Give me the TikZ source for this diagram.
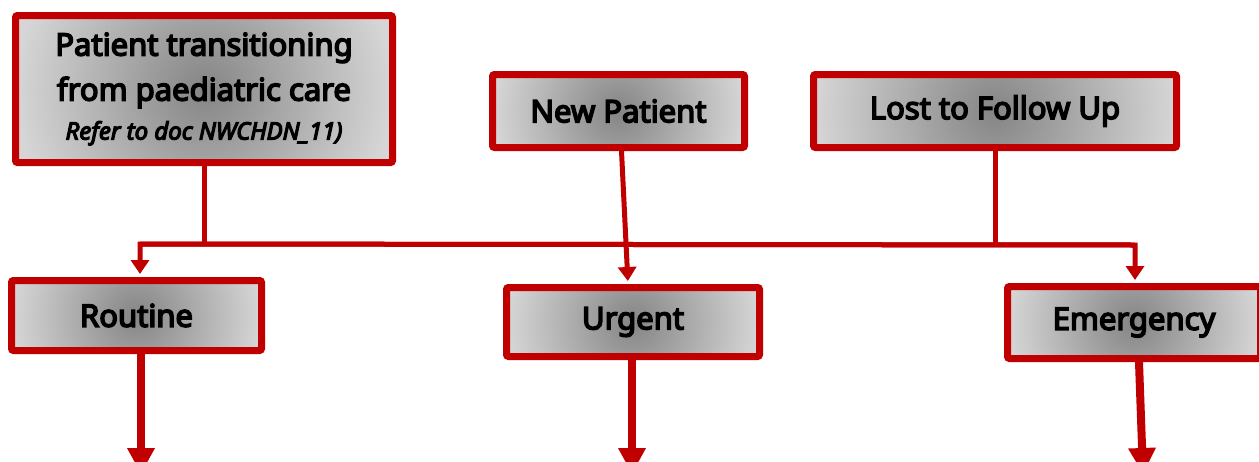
\documentclass[tikz,border=0pt]{standalone}
\usepackage{fontspec}
\setmainfont{Noto Sans}[BoldFont={Noto Sans}, BoldFeatures={FakeBold=5}, BoldItalicFont={Noto Sans Italic}, BoldItalicFeatures={FakeBold=5}]
\usetikzlibrary{arrows.meta,calc}
\definecolor{boxred}{HTML}{C00000}
\definecolor{shcen}{HTML}{858585}
\definecolor{shedge}{HTML}{D6D6D6}
\pgfdeclareradialshading{boxshade}{\pgfpoint{0bp}{0bp}}{color(0bp)=(shcen); color(25bp)=(shedge); color(50bp)=(shedge)}
\tikzset{
  box/.style={draw=boxred, line width=7pt, rounded corners=2pt, inner sep=0pt,
    font=\fontsize{31}{45}\selectfont\bfseries, align=center,
    path picture={
      \fill[shedge, draw=none] (path picture bounding box.south west) rectangle (path picture bounding box.north east);
      \shade[shading=boxshade, draw=none] let \p1=(path picture bounding box.east), \p2=(path picture bounding box.center), \n1={\x1-\x2} in (\p2) circle (\n1);
    }},
  conn/.style={draw=boxred, line width=5pt, line join=miter},
  tip/.style={-{Triangle[length=14pt,width=18pt]}, shorten >=3pt},
  bigtip/.style={draw=boxred, line width=8pt, -{Triangle[length=26pt,width=26pt]}},
}
\begin{document}
\begin{tikzpicture}[x=1pt,y=-1pt]
\useasboundingbox (0,0) rectangle (1259,461);
\node[box, minimum width=377pt, minimum height=147pt] (b1) at (204,89)
  {Patient transitioning\\from paediatric care\\[-6pt]{\fontsize{24}{28}\selectfont\bfseries\itshape Refer to doc NWCHDN\_11)}};
\node[box, minimum width=252pt, minimum height=73pt] (b2) at (618.5,111) {New Patient};
\node[box, minimum width=363pt, minimum height=73pt] (b3) at (995,111) {Lost to Follow Up};
\node[box, minimum width=250pt, minimum height=70pt] (routine) at (136.5,315.5) {Routine};
\node[box, minimum width=253pt, minimum height=69pt] (urgent) at (633,322) {Urgent};
\node[box, minimum width=253pt, minimum height=72pt] (emerg) at (1134,322.5) {Emergency};
\coordinate (busL) at (140,244);
\coordinate (busR) at (1135,245);
\draw[conn] (b1.south) -- (b1.south |- busL);
\draw[conn] (b3.south) -- (b3.south |- busR);
\draw[conn, tip] (busR) -- (busL) -- (routine.north -| busL);
\draw[conn, tip] (busL) -- (busR) -- (emerg.north -| busR);
\draw[conn, tip] ([xshift=3pt]b2.south) -- ([xshift=-5pt]urgent.north);
\coordinate (endR) at (141,474);
\coordinate (endU) at (632,474);
\coordinate (endE) at (1143,474);
\draw[bigtip] (routine.south -| endR) -- (endR);
\draw[bigtip] (urgent.south -| endU) -- (endU);
\draw[bigtip] ([xshift=5pt]emerg.south) -- (endE);
\end{tikzpicture}
\end{document}
